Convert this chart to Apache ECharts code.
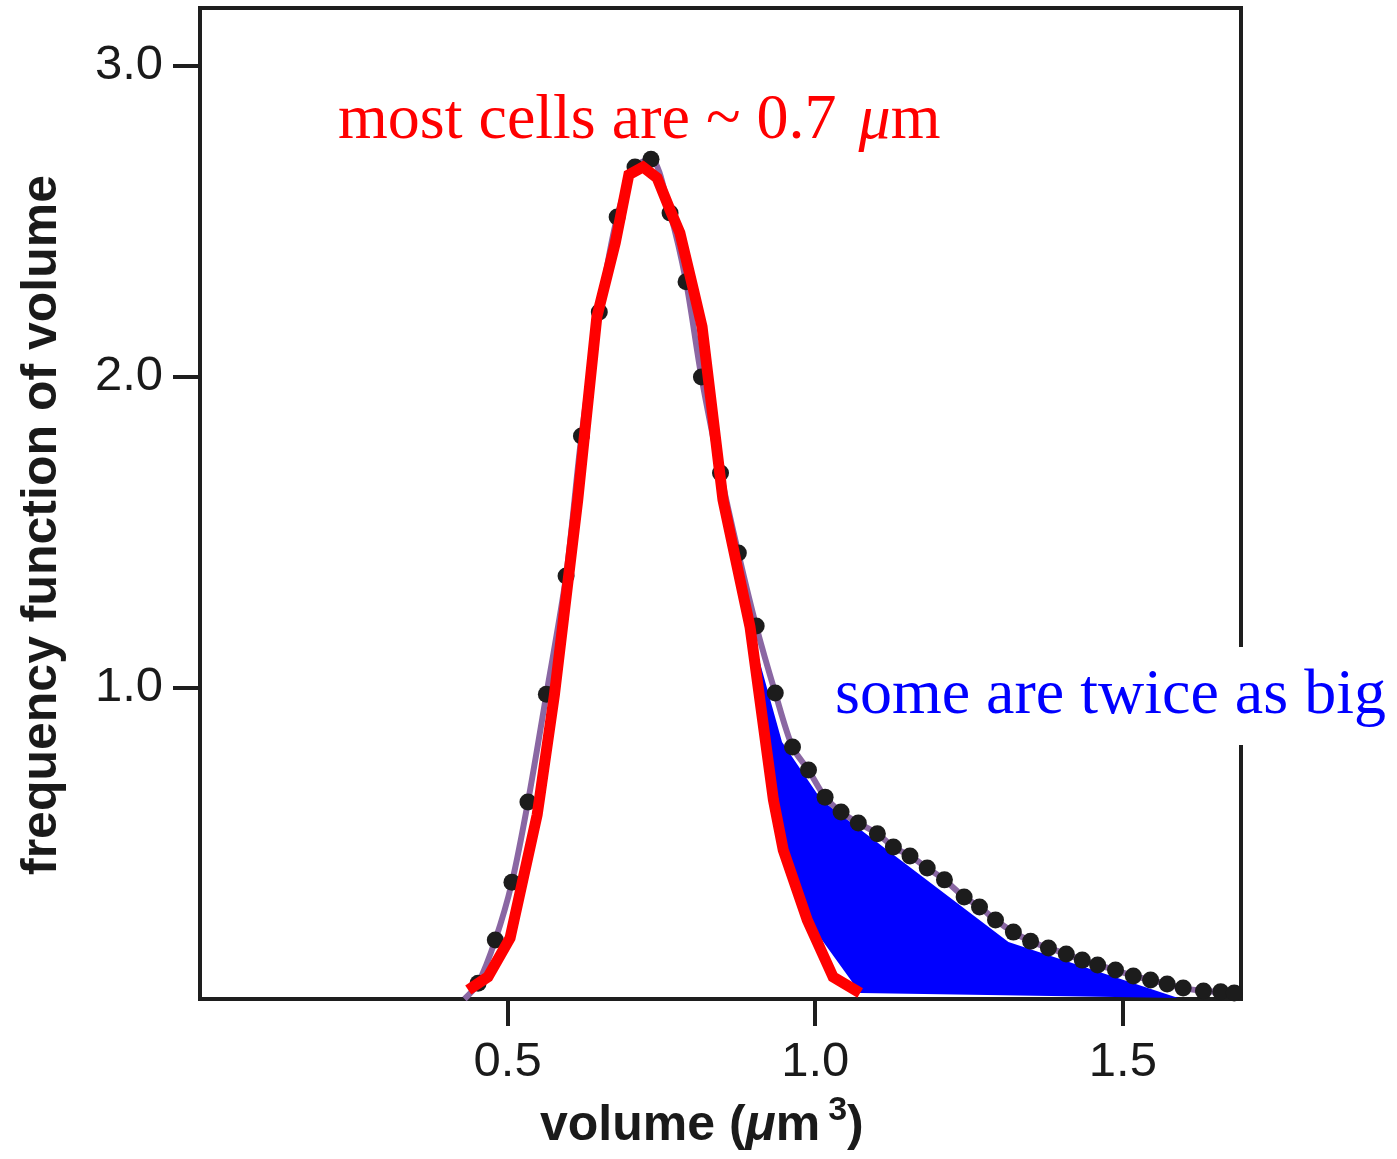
<!DOCTYPE html>
<html>
<head>
<meta charset="utf-8">
<script src="https://cdn.jsdelivr.net/npm/echarts@6/dist/echarts.min.js"></script>
<style>
  html, body { margin: 0; padding: 0; background: #fff; }
  #main { width: 1397px; height: 1159px; }
</style>
</head>
<body>
<div id="main"></div>
<script>
// measured points (volume in um^3, frequency)
var volumeDots = [
  [0.452, 0.051], [0.480, 0.190], [0.507, 0.375], [0.533, 0.633], [0.563, 0.980],
  [0.595, 1.360], [0.620, 1.810], [0.649, 2.209], [0.678, 2.514], [0.707, 2.675],
  [0.733, 2.700], [0.764, 2.527], [0.790, 2.306], [0.815, 2.000], [0.846, 1.691],
  [0.875, 1.434], [0.904, 1.199], [0.935, 0.984], [0.963, 0.810], [0.989, 0.736],
  [1.016, 0.649], [1.042, 0.601], [1.070, 0.566], [1.101, 0.531], [1.127, 0.489],
  [1.154, 0.460], [1.182, 0.421], [1.210, 0.383], [1.242, 0.328], [1.267, 0.296],
  [1.293, 0.254], [1.322, 0.215], [1.350, 0.186], [1.379, 0.164], [1.408, 0.145],
  [1.434, 0.125], [1.459, 0.109], [1.488, 0.093], [1.517, 0.074], [1.545, 0.061],
  [1.572, 0.048], [1.598, 0.035], [1.631, 0.026], [1.659, 0.023], [1.681, 0.019]
]
// the fitted curve starts a little left of the first dot
var fitStart = [[0.430, 0.0]]

// hand drawn red line (single population)
var redLine = [
  [0.436, 0.029], [0.468, 0.071], [0.504, 0.196], [0.548, 0.592], [0.552, 0.646],
  [0.576, 0.977], [0.614, 1.605], [0.645, 2.193], [0.675, 2.431], [0.697, 2.650],
  [0.720, 2.675], [0.743, 2.640], [0.764, 2.537], [0.780, 2.463], [0.802, 2.280],
  [0.816, 2.161], [0.850, 1.605], [0.894, 1.196], [0.932, 0.640], [0.948, 0.479],
  [0.987, 0.254], [1.029, 0.071], [1.073, 0.019]
]

// blue shaded region (the bigger cells)
var blueRegion = [
  [0.892, 1.210], [0.946, 0.826], [1.010, 0.640], [1.314, 0.183], [1.590, 0.003],
  [1.073, 0.019], [0.984, 0.264], [0.935, 0.598]
]

var xTicks = [0.5, 1.0, 1.5]
var yTicks = [1.0, 2.0, 3.0]

var redNote = 'most cells are ~ 0.7 '
var blueNote = 'some are twice as big'

var chart = echarts.init(document.getElementById('main'))

var option = {
  animation: false,
  backgroundColor: '#fff',
  grid: {
    left: 200, top: 8, width: 1041, height: 991,
    show: true,
    borderColor: '#1e1e1e',
    borderWidth: 4
  },
  xAxis: {
    type: 'value',
    min: 0,
    max: 1.692,
    splitLine: { show: false },
    axisLine: { onZero: false, lineStyle: { color: '#1e1e1e', width: 4 } },
    axisTick: { customValues: xTicks, length: 27, lineStyle: { color: '#1e1e1e', width: 4 } },
    axisLabel: {
      customValues: xTicks,
      margin: 39,
      fontSize: 49,
      fontFamily: 'Liberation Sans',
      color: '#1a1a1a',
      formatter: function (v) { return v.toFixed(1) }
    }
  },
  yAxis: {
    type: 'value',
    min: 0,
    max: 3.186,
    splitLine: { show: false },
    axisLine: { lineStyle: { color: '#1e1e1e', width: 4 } },
    axisTick: { customValues: yTicks, length: 27, lineStyle: { color: '#1e1e1e', width: 4 } },
    axisLabel: {
      customValues: yTicks,
      margin: 37,
      fontSize: 49,
      fontFamily: 'Liberation Sans',
      color: '#1a1a1a',
      formatter: function (v) { return v.toFixed(1) }
    }
  },
  series: [
    {
      // blue area
      type: 'custom',
      z: 1,
      data: blueRegion,
      renderItem: function (params, api) {
        if (params.dataIndex !== 0) return
        var pts = blueRegion.map(function (p) { return api.coord(p) })
        return { type: 'polygon', shape: { points: pts }, style: { fill: '#0000ff' } }
      }
    },
    {
      // purple fit
      type: 'line',
      z: 2,
      data: fitStart.concat(volumeDots),
      smooth: 0.3,
      symbol: 'none',
      lineStyle: { color: '#8a67a3', width: 6 }
    },
    {
      type: 'scatter',
      z: 3,
      data: volumeDots,
      symbolSize: 17,
      itemStyle: { color: '#1c1c1c', opacity: 1 }
    },
    {
      type: 'line',
      z: 4,
      data: redLine,
      symbol: 'none',
      lineStyle: { color: '#ff0000', width: 11, join: 'miter', cap: 'butt' }
    }
  ],
  graphic: [
    {
      type: 'text',
      z: 100,
      style: {
        x: 338, y: 121,
        verticalAlign: 'middle',
        text: redNote + '{mu|μ}m',
        font: '64px "Liberation Serif"',
        fill: '#ff0000',
        rich: {
          mu: { fontStyle: 'italic', fontFamily: 'Liberation Serif', fontSize: 64, color: '#ff0000', padding: [0, 0, 0, 6] }
        }
      }
    },
    {
      type: 'rect',
      z: 100,
      shape: { x: 826, y: 647, width: 571, height: 98 },
      style: { fill: '#ffffff' }
    },
    {
      type: 'text',
      z: 101,
      style: {
        x: 835, y: 696,
        verticalAlign: 'middle',
        text: blueNote,
        font: '64px "Liberation Serif"',
        fill: '#0000ff'
      }
    },
    {
      type: 'text',
      z: 100,
      x: 42, y: 525,
      rotation: Math.PI / 2,
      style: {
        text: 'frequency function of volume',
        font: 'bold 50px "Liberation Sans"',
        fill: '#1a1a1a',
        align: 'center',
        verticalAlign: 'middle'
      }
    },
    {
      type: 'text',
      z: 100,
      style: {
        x: 540, y: 1126,
        verticalAlign: 'middle',
        text: 'volume ({mu|μ}m{sup|3})',
        font: 'bold 50px "Liberation Sans"',
        fill: '#1a1a1a',
        rich: {
          mu: { fontStyle: 'italic', fontWeight: 'bold', fontSize: 50, fontFamily: 'Liberation Sans', lineHeight: 64 },
          sup: { fontSize: 34, fontWeight: 'bold', fontFamily: 'Liberation Sans', verticalAlign: 'top', lineHeight: 34, padding: [0, 0, 0, 8] }
        }
      }
    }
  ]
}

chart.setOption(option)
</script>
</body>
</html>
